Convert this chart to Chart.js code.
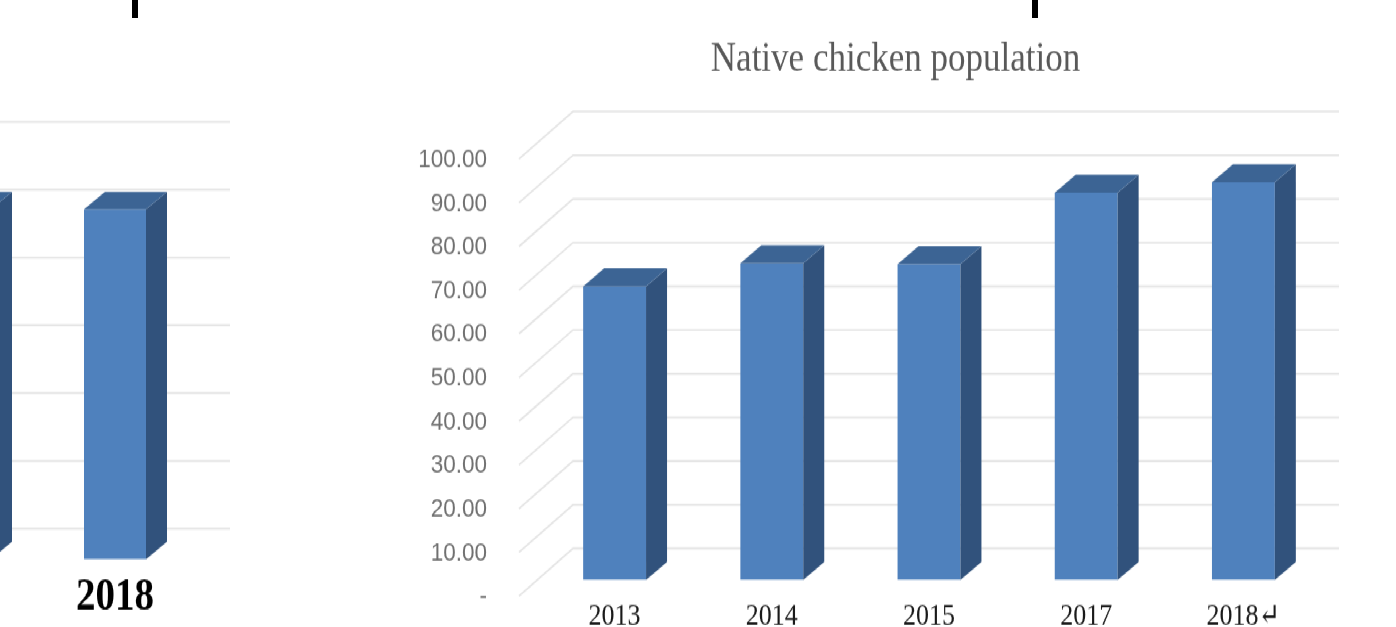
<!DOCTYPE html>
<html>
<head>
<meta charset="utf-8">
<title>Native chicken population</title>
<script src="https://cdn.jsdelivr.net/npm/chart.js@4.4.0/dist/chart.umd.min.js"></script>
<style>
    html, body { margin: 0; padding: 0; background: #fff; overflow: hidden; }
    body { width: 1396px; height: 627px; position: relative; }
    /* the source picture is stretched vertically, so the drawing is too */
    #stage { position: absolute; left: 0; top: 0; width: 1396px; height: 540px; transform: scaleY(1.1611); transform-origin: 0 0; }
    #leftBox { position: absolute; left: -200px; top: 0; width: 440px; height: 540px; }
    #mainBox { position: absolute; left: 0; top: 0; width: 1396px; height: 540px; }
    .mark { position: absolute; top: 0; width: 6px; height: 18px; background: #000; }
</style>
</head>
<body>
<div id="stage">
    <div id="leftBox"><canvas id="leftChart"></canvas></div>
    <div id="mainBox"><canvas id="mainChart"></canvas></div>
</div>
<div class="mark" style="left:132px"></div>
<div class="mark" style="left:1032px"></div>

<script>
// Main chart data
const years = ['2013', '2014', '2015', '2017', '2018\u21B5'];
const population = [67.2, 72.5, 72.3, 88.6, 91.0];
const yTickValues = [0, 10, 20, 30, 40, 50, 60, 70, 80, 90, 100];
const yTickLabels = ['-', '10.00', '20.00', '30.00', '40.00', '50.00', '60.00', '70.00', '80.00', '90.00', '100.00'];

// Neighbouring chart, cut off at the left edge
const leftYears = ['2017', '2018'];
const leftValues = [5.16, 5.16];
const leftTickValues = [0, 1, 2, 3, 4, 5, 6];

const S = 627 / 540; // vertical stretch of the stage

const FRONT = '#4f81bd';
const SIDE = '#31527c';
const TOP = '#3c6494';
const GRID = '#e4e4e4';

// Draws the back wall / floor gridlines and the side + top faces of the bars
function fake3d(opts) {
    return {
        id: 'fake3d',
        beforeDatasetsDraw(chart) {
            const { ctx, chartArea } = chart;
            const scale = chart.scales.y;
            ctx.save();
            ctx.strokeStyle = GRID;
            ctx.lineWidth = 1.6;
            scale.ticks.forEach(t => {
                const py = scale.getPixelForValue(t.value);
                ctx.beginPath();
                ctx.moveTo(chartArea.left + opts.frontDx, py + opts.frontDy);
                ctx.lineTo(chartArea.left + opts.wallDx, py + opts.wallDy);
                ctx.lineTo(chartArea.right + opts.wallRight, py + opts.wallDy);
                ctx.stroke();
            });
            ctx.restore();
        },
        afterDatasetsDraw(chart) {
            const { ctx } = chart;
            const meta = chart.getDatasetMeta(0);
            ctx.save();
            meta.data.forEach(bar => {
                const { x, y, base, width } = bar.getProps(['x', 'y', 'base', 'width'], true);
                const l = x - width / 2;
                const r = x + width / 2;
                const dx = opts.depthDx;
                const dy = opts.depthDy;
                // right side
                ctx.fillStyle = SIDE;
                ctx.beginPath();
                ctx.moveTo(r, y);
                ctx.lineTo(r + dx, y - dy);
                ctx.lineTo(r + dx, base - dy);
                ctx.lineTo(r, base);
                ctx.closePath();
                ctx.fill();
                // top
                ctx.fillStyle = TOP;
                ctx.beginPath();
                ctx.moveTo(l, y);
                ctx.lineTo(l + dx, y - dy);
                ctx.lineTo(r + dx, y - dy);
                ctx.lineTo(r, y);
                ctx.closePath();
                ctx.fill();
            });
            ctx.restore();
        }
    };
}

const mainChart = new Chart(document.getElementById('mainChart'), {
    type: 'bar',
    data: {
        labels: years,
        datasets: [{
            label: 'Native chicken population',
            data: population,
            backgroundColor: FRONT,
            borderWidth: 0,
            categoryPercentage: 0.8,
            barPercentage: 0.5
        }]
    },
    options: {
        responsive: true,
        maintainAspectRatio: false,
        animation: false,
        layout: { padding: { left: 400, right: 5, top: 0, bottom: 0 } },
        plugins: {
            legend: { display: false },
            tooltip: { enabled: false },
            title: {
                display: true,
                text: 'Native chicken population',
                color: '#595959',
                font: { family: '"Liberation Serif", "Times New Roman", serif', size: 35, weight: 'normal' },
                padding: { top: 30.5, bottom: 50.7 }
            }
        },
        scales: {
            x: {
                grid: { display: false, drawTicks: false },
                border: { display: false },
                ticks: {
                    color: '#1a1a1a',
                    font: { family: '"Liberation Serif", "DejaVu Serif", serif', size: 26 },
                    padding: 16.5,
                    maxRotation: 0,
                    autoSkip: false
                },
                afterFit(scale) { scale.height = 40.5; }
            },
            y: {
                min: 0,
                max: 100,
                grid: { display: false, drawTicks: false },
                border: { display: false },
                afterBuildTicks(scale) { scale.ticks = yTickValues.map(v => ({ value: v })); },
                ticks: {
                    color: '#707070',
                    font: { family: '"Liberation Sans", Arial, sans-serif', size: 22.5 },
                    padding: 49,
                    labelOffset: 14.5,
                    callback: (value, index) => yTickLabels[index]
                },
                afterFit(scale) {
                    scale.width = 136;
                    scale.paddingTop = 0;
                    scale.paddingBottom = 0;
                }
            },
            // empty right-hand box, keeps the plot narrower than the title row
            yRight: {
                position: 'right',
                grid: { display: false, drawTicks: false },
                border: { display: false },
                ticks: { display: false },
                afterFit(scale) {
                    scale.width = 69;
                    scale.paddingTop = 0;
                    scale.paddingBottom = 0;
                }
            }
        }
    },
    plugins: [fake3d({
        frontDx: -17, frontDy: 16 / S,
        wallDx: 37, wallDy: -31.5 / S, wallRight: 17,
        depthDx: 21, depthDy: 18 / S
    })]
});

const leftChart = new Chart(document.getElementById('leftChart'), {
    type: 'bar',
    data: {
        labels: leftYears,
        datasets: [{
            data: leftValues,
            backgroundColor: FRONT,
            borderWidth: 0,
            categoryPercentage: 0.8,
            barPercentage: 0.5
        }]
    },
    options: {
        responsive: true,
        maintainAspectRatio: false,
        animation: false,
        layout: { padding: { left: 82.5, right: 47.5, top: 131.3, bottom: 0 } },
        plugins: { legend: { display: false }, tooltip: { enabled: false } },
        scales: {
            x: {
                grid: { display: false, drawTicks: false },
                border: { display: false },
                ticks: {
                    color: '#000',
                    font: { family: '"Liberation Serif", "Times New Roman", serif', size: 39, weight: 'bold' },
                    padding: 9.9,
                    maxRotation: 0,
                    autoSkip: false
                },
                afterFit(scale) { scale.height = 58.3; }
            },
            y: {
                display: false,
                min: 0,
                max: 6,
                afterBuildTicks(scale) { scale.ticks = leftTickValues.map(v => ({ value: v })); }
            }
        }
    },
    plugins: [fake3d({
        frontDx: -17, frontDy: 16 / S,
        wallDx: 37, wallDy: -30.6 / S, wallRight: 37.5,
        depthDx: 21, depthDy: 17.6 / S
    })]
});
</script>
</body>
</html>
